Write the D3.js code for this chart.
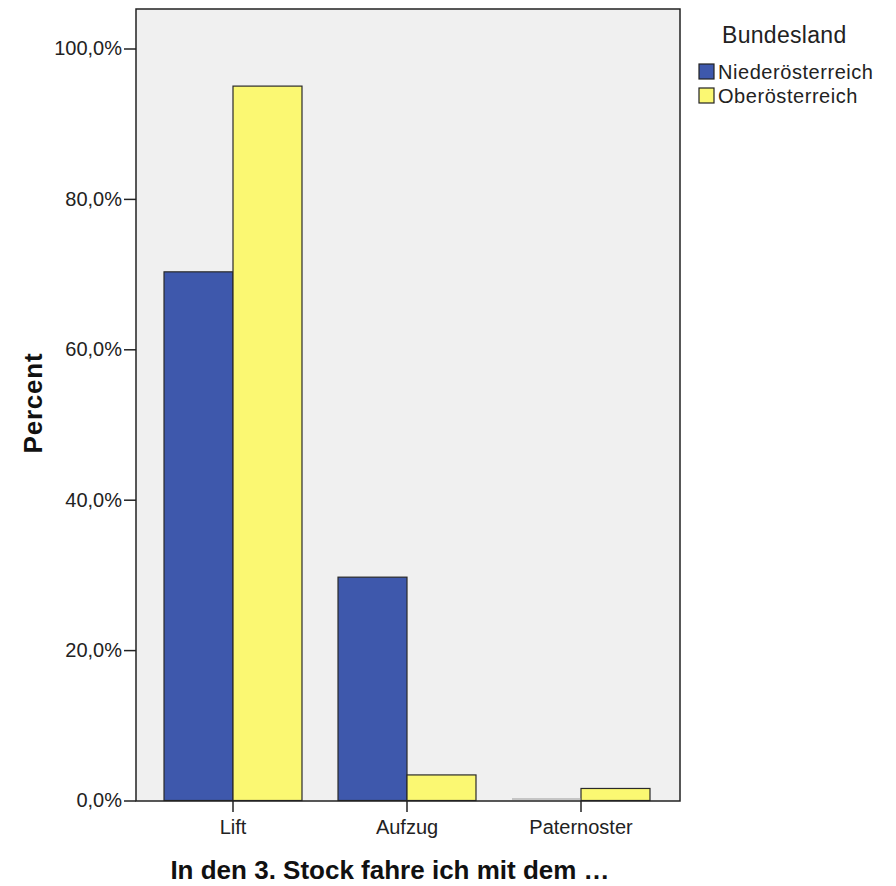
<!DOCTYPE html>
<html>
<head>
<meta charset="utf-8">
<script src="https://cdn.jsdelivr.net/npm/d3@7"></script>
<style>
  html, body { margin: 0; padding: 0; background: #ffffff; }
  svg { display: block; font-family: "Liberation Sans", Arial, sans-serif; }
</style>
</head>
<body>
<svg id="chart" width="896" height="886"></svg>
<script>
// Share of respondents per answer, split by federal state
const categories = ["Lift", "Aufzug", "Paternoster"];
const seriesNames = ["Niederösterreich", "Oberösterreich"];
const niederoesterreich = [70.3, 29.7, 0.0];
const oberoesterreich = [95.0, 3.4, 1.6];
const yTicks = [0, 20, 40, 60, 80, 100];
const seriesColors = ["#3e58ac", "#fbf872"];

const svg = d3.select("#chart");

const plot = { left: 136, right: 680, top: 9, bottom: 801 };

const x = d3.scaleBand()
  .domain(categories)
  .range([146, 668])
  .paddingInner(0.207)
  .paddingOuter(0.1035);

const xInner = d3.scaleBand()
  .domain(seriesNames)
  .range([0, x.bandwidth()]);

const y = d3.scaleLinear()
  .domain([0, 100])
  .range([plot.bottom - 0.5, 48.5]);

// plot background
svg.append("rect")
  .attr("x", plot.left).attr("y", plot.top)
  .attr("width", plot.right - plot.left)
  .attr("height", plot.bottom - plot.top)
  .attr("fill", "#f0f0f0");

// bars
const rows = categories.map((c, i) => ({
  category: c,
  values: [niederoesterreich[i], oberoesterreich[i]]
}));

const groups = svg.append("g").selectAll("g")
  .data(rows)
  .join("g")
  .attr("transform", d => `translate(${x(d.category)},0)`);

groups.selectAll("rect")
  .data(d => d.values.map((v, j) => ({ series: seriesNames[j], value: v, j })))
  .join("rect")
  .attr("x", d => xInner(d.series))
  .attr("y", d => y(d.value))
  .attr("width", xInner.bandwidth())
  .attr("height", d => Math.max(0, y(0) - y(d.value)))
  .attr("fill", d => seriesColors[d.j])
  .attr("stroke", "#2a2a2a")
  .attr("stroke-width", 1.2);

// frame
svg.append("rect")
  .attr("x", plot.left).attr("y", plot.top)
  .attr("width", plot.right - plot.left)
  .attr("height", plot.bottom - plot.top)
  .attr("fill", "none")
  .attr("stroke", "#222222")
  .attr("stroke-width", 1.5);

// empty bars show as a faint baseline segment
groups.filter(d => d.values.some(v => v === 0))
  .selectAll("line.zero")
  .data(d => d.values.map((v, j) => ({ series: seriesNames[j], value: v })).filter(e => e.value === 0))
  .join("line")
  .attr("class", "zero")
  .attr("x1", d => xInner(d.series))
  .attr("x2", d => xInner(d.series) + xInner.bandwidth())
  .attr("y1", y(0) - 1.5)
  .attr("y2", y(0) - 1.5)
  .attr("stroke", "#9a9a9a")
  .attr("stroke-width", 1);

// y axis
const yAxis = d3.axisLeft(y)
  .tickValues(yTicks)
  .tickSize(12)
  .tickPadding(2)
  .tickFormat(d => d3.format(".1f")(d).replace(".", ",") + "%");

const gy = svg.append("g")
  .attr("transform", `translate(${plot.left},0)`)
  .call(yAxis);
gy.select(".domain").remove();
gy.selectAll(".tick line").attr("stroke", "#222").attr("stroke-width", 1.5);
gy.selectAll(".tick text")
  .attr("fill", "#222")
  .style("font-size", "20px");

// x axis
const xAxis = d3.axisBottom(x)
  .tickSize(11)
  .tickPadding(8);
const gx = svg.append("g")
  .attr("transform", `translate(0,${plot.bottom})`)
  .call(xAxis);
gx.select(".domain").remove();
gx.selectAll(".tick line").attr("stroke", "#222").attr("stroke-width", 1.5);
gx.selectAll(".tick text")
  .attr("fill", "#222")
  .style("font-size", "20px");

// axis titles
svg.append("text")
  .attr("transform", "translate(42,403) rotate(-90)")
  .attr("text-anchor", "middle")
  .style("font-size", "26px")
  .style("letter-spacing", "0.8px")
  .style("font-weight", "bold")
  .attr("fill", "#111")
  .text("Percent");

svg.append("text")
  .attr("x", 390).attr("y", 879)
  .attr("text-anchor", "middle")
  .style("font-size", "26px")
  .style("font-weight", "bold")
  .attr("fill", "#111")
  .text("In den 3. Stock fahre ich mit dem …");

// legend
const legend = svg.append("g");
legend.append("text")
  .attr("x", 722).attr("y", 43)
  .style("font-size", "23px")
  .style("letter-spacing", "0.3px")
  .attr("fill", "#222")
  .text("Bundesland");

const items = legend.selectAll("g.item")
  .data(seriesNames)
  .join("g")
  .attr("class", "item")
  .attr("transform", (d, i) => `translate(699,${64 + i * 24})`);
items.append("rect")
  .attr("width", 15).attr("height", 15)
  .attr("fill", (d, i) => seriesColors[i])
  .attr("stroke", "#222").attr("stroke-width", 1.2);
items.append("text")
  .attr("x", 19).attr("y", 15)
  .style("font-size", "20px")
  .style("letter-spacing", "0.55px")
  .attr("fill", "#222")
  .text(d => d);
</script>
</body>
</html>
